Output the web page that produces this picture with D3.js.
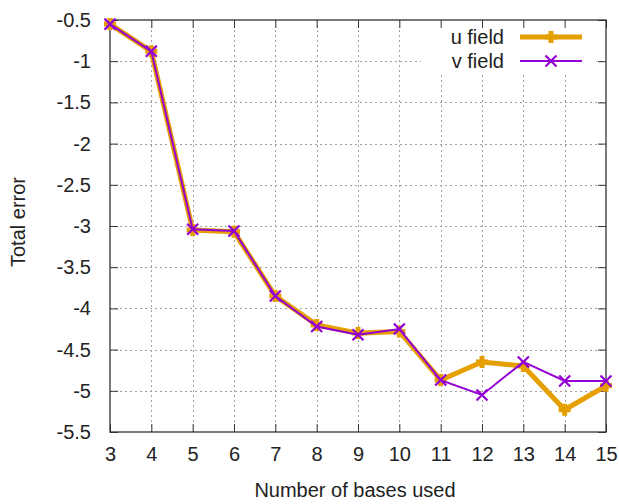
<!DOCTYPE html>
<html>
<head>
<meta charset="utf-8">
<script src="https://cdn.jsdelivr.net/npm/d3@7"></script>
<style>
  body { margin: 0; background: #fff; }
  svg { display: block; font-family: "Liberation Sans", Arial, sans-serif; }
</style>
</head>
<body>
<svg id="chart" width="619" height="504"></svg>
<script>
// Number of basis functions used
const bases = [3, 4, 5, 6, 7, 8, 9, 10, 11, 12, 13, 14, 15];
// Total error (log scale) for each velocity component
const uField = [-0.55, -0.88, -3.05, -3.07, -3.85, -4.20, -4.30, -4.28, -4.87, -4.65, -4.70, -5.23, -4.94];
const vField = [-0.55, -0.88, -3.04, -3.06, -3.85, -4.22, -4.32, -4.25, -4.87, -5.05, -4.65, -4.88, -4.88];
const xTicks = [3, 4, 5, 6, 7, 8, 9, 10, 11, 12, 13, 14, 15];
const yTicks = [-0.5, -1, -1.5, -2, -2.5, -3, -3.5, -4, -4.5, -5, -5.5];
const seriesNames = ["u field", "v field"];

const FS = 20;
const svg = d3.select("#chart");
const m = { left: 110, right: 13, top: 20, bottom: 72 };
const W = 619, H = 504;
const x = d3.scaleLinear().domain([3, 15]).range([m.left, W - m.right]);
const y = d3.scaleLinear().domain([-5.5, -0.5]).range([H - m.bottom, m.top]);

// grid
const grid = svg.append("g").attr("stroke", "#a0a0a0").attr("stroke-width", 1)
  .attr("stroke-dasharray", "2,3");
xTicks.slice(1, -1).forEach(t => {
  grid.append("line").attr("x1", Math.round(x(t)) + 0.5).attr("x2", Math.round(x(t)) + 0.5)
    .attr("y1", y(-0.5)).attr("y2", y(-5.5));
});
yTicks.slice(1, -1).forEach(t => {
  grid.append("line").attr("y1", Math.round(y(t)) + 0.5).attr("y2", Math.round(y(t)) + 0.5)
    .attr("x1", x(3)).attr("x2", x(15));
});

// legend backdrop hides grid beneath key
svg.append("rect").attr("x", 421).attr("y", 21).attr("width", 175).attr("height", 54).attr("fill", "#fff");

// axes with inward ticks, mirrored on top and right
const tickLen = 8;
const axB = d3.axisBottom(x).tickValues(xTicks).tickSize(-tickLen).tickPadding(15).tickFormat(d3.format("d"));
const axT = d3.axisTop(x).tickValues(xTicks).tickSize(-tickLen).tickFormat("");
const axL = d3.axisLeft(y).tickValues(yTicks).tickSize(-tickLen).tickPadding(19).tickFormat(d => String(d));
const axR = d3.axisRight(y).tickValues(yTicks).tickSize(-tickLen).tickFormat("");

function styleAxis(g) {
  g.select(".domain").remove();
  g.selectAll("line").attr("stroke", "#333").attr("stroke-width", 1);
  g.selectAll("text").attr("font-size", FS).attr("fill", "#222")
    .attr("font-family", "'Liberation Sans', Arial, sans-serif");
}
svg.append("g").attr("transform", `translate(0,${y(-5.5)})`).call(axB).call(styleAxis);
svg.append("g").attr("transform", `translate(0,${y(-0.5)})`).call(axT).call(styleAxis);
svg.append("g").attr("transform", `translate(${x(3)},0)`).call(axL).call(styleAxis);
svg.append("g").attr("transform", `translate(${x(15)},0)`).call(axR).call(styleAxis);

// frame
svg.append("rect").attr("x", x(3)).attr("y", y(-0.5))
  .attr("width", x(15) - x(3)).attr("height", y(-5.5) - y(-0.5))
  .attr("fill", "none").attr("stroke", "#333").attr("stroke-width", 1.3);

const colors = ["#E69F00", "#9400D3"];
const widths = [5, 2];

const line = d3.line().x((d, i) => x(bases[i])).y(d => y(d));

function plus(g, cx, cy, s, c, w) {
  g.append("path").attr("d", `M${cx - s},${cy}H${cx + s}M${cx},${cy - s}V${cy + s}`)
    .attr("stroke", c).attr("stroke-width", w).attr("fill", "none");
}
function cross(g, cx, cy, s, c, w) {
  g.append("path").attr("d", `M${cx - s},${cy - s}L${cx + s},${cy + s}M${cx - s},${cy + s}L${cx + s},${cy - s}`)
    .attr("stroke", c).attr("stroke-width", w).attr("fill", "none");
}

const plot = svg.append("g");
// u field
plot.append("path").datum(uField).attr("d", line).attr("fill", "none")
  .attr("stroke", colors[0]).attr("stroke-width", widths[0]).attr("stroke-linejoin", "miter");
uField.forEach((v, i) => plus(plot, x(bases[i]), y(v), 6, colors[0], 5));
// v field
plot.append("path").datum(vField).attr("d", line).attr("fill", "none")
  .attr("stroke", colors[1]).attr("stroke-width", widths[1]);
vField.forEach((v, i) => cross(plot, x(bases[i]), y(v), 5.5, colors[1], 2.2));

// key
const key = svg.append("g");
[0, 1].forEach(k => {
  const ky = 37 + k * 24;
  key.append("text").attr("x", 504).attr("y", ky + 7).attr("text-anchor", "end")
    .attr("font-size", FS).attr("fill", "#222").text(seriesNames[k]);
  key.append("line").attr("x1", 520).attr("x2", 582).attr("y1", ky).attr("y2", ky)
    .attr("stroke", colors[k]).attr("stroke-width", widths[k]);
  if (k === 0) plus(key, 551, ky, 6, colors[0], 5);
  else cross(key, 551, ky, 5.5, colors[1], 2.2);
});

// axis titles
svg.append("text").attr("x", 355).attr("y", 497).attr("text-anchor", "middle")
  .attr("font-size", FS).attr("fill", "#222").text("Number of bases used");
svg.append("text").attr("transform", `translate(25,222) rotate(-90)`)
  .attr("text-anchor", "middle").attr("font-size", FS).attr("fill", "#222").text("Total error");
</script>
</body>
</html>
